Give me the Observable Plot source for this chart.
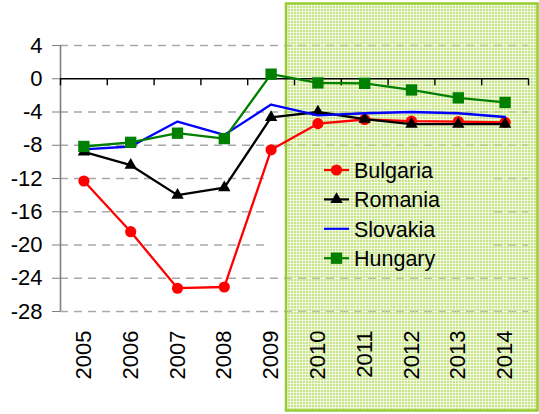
<!DOCTYPE html>
<html><head><meta charset="utf-8">
<script src="https://cdn.jsdelivr.net/npm/d3@7"></script>
<script src="https://cdn.jsdelivr.net/npm/@observablehq/plot@0.6"></script>
<style>body{margin:0;background:#fff} #chart svg{display:block}</style>
</head><body><div id="chart"></div>
<script>
const years = [2005, 2006, 2007, 2008, 2009, 2010, 2011, 2012, 2013, 2014];
const bulgaria = [-12.3, -18.4, -25.2, -25.05, -8.55, -5.4, -4.9, -5.1, -5.15, -5.25];
const romania  = [-8.8, -10.4, -14.0, -13.1, -4.65, -4.0, -4.85, -5.45, -5.45, -5.45];
const slovakia = [-8.5, -8.15, -5.15, -6.75, -3.1, -4.4, -4.15, -4.0, -4.15, -4.6];
const hungary  = [-8.15, -7.65, -6.55, -7.2, 0.55, -0.5, -0.55, -1.35, -2.3, -2.85];
const yTicks = [4, 0, -4, -8, -12, -16, -20, -24, -28];
const seriesNames = ["Bulgaria", "Romania", "Slovakia", "Hungary"];

const series = [
  {name: seriesNames[0], values: bulgaria, color: "#ff0000", symbol: "circle", r: 5.6},
  {name: seriesNames[1], values: romania, color: "#000000", symbol: "triangle", r: 4.6},
  {name: seriesNames[2], values: slovakia, color: "#0000ff", symbol: null, r: 0},
  {name: seriesNames[3], values: hungary, color: "#008000", symbol: "square", r: 6.4}
];
const rows = series.flatMap(s => years.map((yr, i) => ({series: s.name, year: yr, value: s.values[i]})));
const boundaries = years.map(y => y - 0.5).concat([years[years.length - 1] + 0.5]);

const FONT = "'Liberation Sans', Arial, sans-serif";

function legendBg(index, scales, values, dims) {
  const g = d3.create("svg:g");
  g.append("rect").attr("x", 268).attr("y", 157).attr("width", 222).attr("height", 114).attr("fill", "#fff");
  return g.node();
}

function patch(index, scales, values, dims) {
  const g = d3.create("svg:g");
  const defs = g.append("defs");
  const p = defs.append("pattern").attr("id", "gpat").attr("patternUnits", "userSpaceOnUse")
    .attr("width", 3).attr("height", 3);
  p.append("rect").attr("x", 0).attr("y", 0).attr("width", 2).attr("height", 2).attr("fill", "#b8dd66").attr("fill-opacity", 0.75);
  p.append("rect").attr("x", 2).attr("y", 0).attr("width", 1).attr("height", 2).attr("fill", "#d6eca6").attr("fill-opacity", 0.5);
  p.append("rect").attr("x", 0).attr("y", 2).attr("width", 2).attr("height", 1).attr("fill", "#d6eca6").attr("fill-opacity", 0.5);
  const left = scales.x(years[4] + 0.5) - 8;
  g.append("rect").attr("x", left).attr("y", 3.5).attr("width", dims.width - 1.5 - left).attr("height", 407)
    .attr("fill", "url(#gpat)").attr("stroke", "#99cc33").attr("stroke-width", 2.5);
  return g.node();
}

function legend(index, scales, values, dims) {
  const g = d3.create("svg:g");
  series.forEach((s, i) => {
    const y = 170 + i * 29.4;
    g.append("line").attr("x1", 324).attr("x2", 349).attr("y1", y).attr("y2", y)
      .attr("stroke", s.color).attr("stroke-width", 2.2);
    if (s.symbol) {
      const sym = {circle: d3.symbolCircle, triangle: d3.symbolTriangle, square: d3.symbolSquare}[s.symbol];
      g.append("path").attr("transform", `translate(336.5,${y})`)
        .attr("d", d3.symbol(sym, Math.PI * s.r * s.r)()).attr("fill", s.color);
    }
    g.append("text").attr("x", 354).attr("y", y).attr("dy", "0.36em").attr("text-anchor", "start")
      .attr("font-size", 21.5).attr("font-family", FONT).attr("fill", "#000").text(s.name);
  });
  return g.node();
}

const marks = [
  Plot.gridY(yTicks.filter(d => d !== 0), {stroke: "#a8a8a8", strokeOpacity: 1, strokeWidth: 1.6, strokeDasharray: "8,6"}),
  legendBg,
  patch,
  Plot.ruleX([boundaries[0]], {y1: yTicks[0], y2: yTicks[yTicks.length - 1], stroke: "#808080", strokeWidth: 1.6}),
  Plot.axisY({ticks: yTicks, label: null, tickSize: 8, tickPadding: 10, stroke: "#808080", fill: "#000", fontSize: 22, tickFormat: d => String(d)}),
  Plot.ruleY([0], {stroke: "#000", strokeWidth: 1.6}),
  Plot.ruleX(boundaries, {y1: 0, y2: -0.85, stroke: "#000", strokeWidth: 1.4}),
];
series.forEach(s => {
  const data = rows.filter(d => d.series === s.name);
  marks.push(Plot.line(data, {x: "year", y: "value", stroke: s.color, strokeWidth: 2.3}));
  if (s.symbol) marks.push(Plot.dot(data, {x: "year", y: "value", fill: s.color, symbol: s.symbol, r: s.r, stroke: "none"}));
});
marks.push(legend);
marks.push(Plot.axisX({ticks: years, label: null, tickFormat: d => String(d), tickRotate: -90, tickSize: 0, tickPadding: 19, fontSize: 22, fill: "#000"}));

const chart = Plot.plot({
  width: 539, height: 414,
  marginTop: 45, marginBottom: 103, marginLeft: 60, marginRight: 11,
  style: {fontFamily: FONT, fontSize: "22px", color: "#000", background: "#fff"},
  x: {type: "linear", domain: [boundaries[0], boundaries[boundaries.length - 1]], axis: null},
  y: {domain: [yTicks[yTicks.length - 1], yTicks[0]], axis: null},
  marks
});
document.getElementById("chart").appendChild(chart);
</script></body></html>
